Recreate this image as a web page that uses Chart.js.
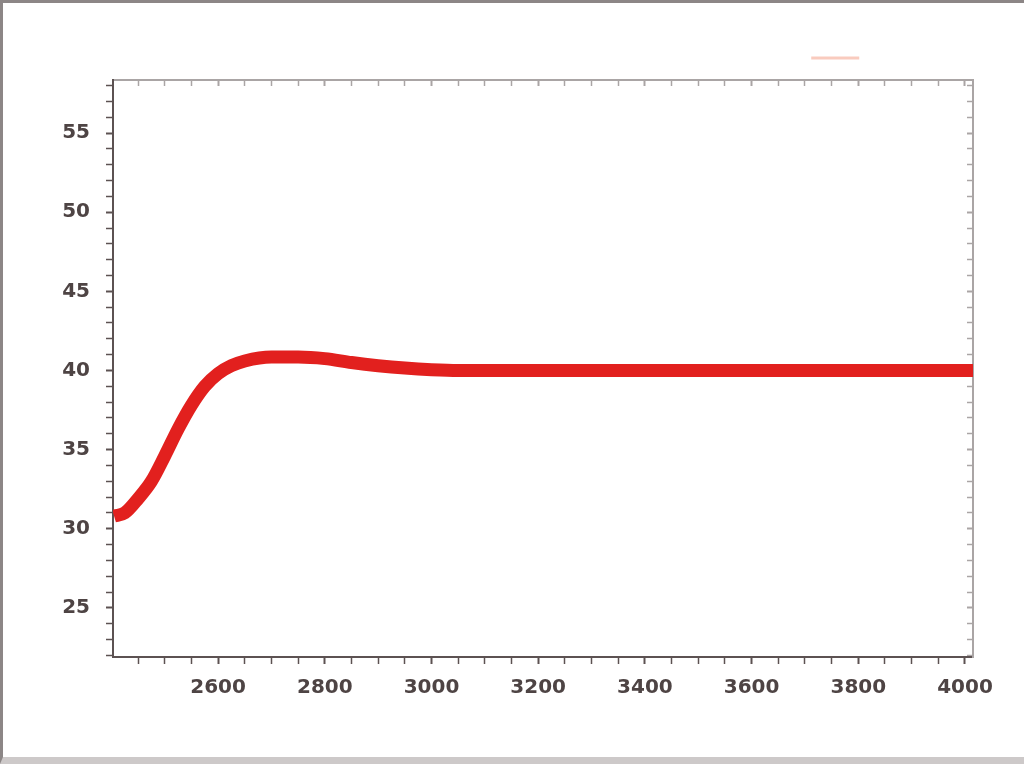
<!DOCTYPE html>
<html>
<head>
<meta charset="utf-8">
<script src="https://cdn.jsdelivr.net/npm/chart.js@4.4.1/dist/chart.umd.min.js"></script>
<style>
  html, body { margin: 0; padding: 0; background: #ffffff; }
  #wrap { position: relative; width: 1024px; height: 764px; }
  #frame {
    position: absolute; left: 0; top: 0; width: 1024px; height: 764px;
    box-sizing: border-box; pointer-events: none;
    border-left: 3px solid #8c8686; border-top: 3px solid #8c8686;
    border-bottom: 7px solid #cdc9c9;
  }
</style>
</head>
<body>
<div id="wrap">
  <canvas id="grafico"></canvas>
  <div id="frame"></div>
</div>
<script>
// valores
var eixoX = [2405, 2425, 2450, 2475, 2500, 2525, 2550, 2575, 2600, 2625, 2650, 2700,
             2750, 2800, 2850, 2900, 2950, 3000, 3050, 3100, 3200, 3400, 3600, 3800, 4015];
var valores = [30.8, 31.0, 31.9, 33.0, 34.6, 36.3, 37.8, 39.0, 39.8, 40.3, 40.6, 40.85,
               40.85, 40.75, 40.5, 40.3, 40.15, 40.05, 40.0, 40.0, 40.0, 40.0, 40.0, 40.0, 40.0];

var ticksX = [2600, 2800, 3000, 3200, 3400, 3600, 3800, 4000];
var ticksY = [25, 30, 35, 40, 45, 50, 55];
var menoresX = 50;   // passo dos ticks menores
var menoresY = 1;

var limitesX = [2403, 4015];
var limitesY = [21.9, 58.35];

var pontos = eixoX.map(function (x, i) { return { x: x, y: valores[i] }; });

function gerarTicks(min, max, passo) {
  var lista = [];
  var v = Math.ceil(min / passo) * passo;
  for (; v <= max; v += passo) lista.push({ value: v });
  return lista;
}

var fonteTicks = { family: 'DejaVu Sans', size: 20, weight: 'bold' };
var corTexto = '#4e4444';

function eixoX_(pos, tamanho, rotulos, cor, tl) {
  return {
    type: 'linear', position: pos, min: limitesX[0], max: limitesX[1],
    afterBuildTicks: function (s) { s.ticks = gerarTicks(limitesX[0], limitesX[1], menoresX); },
    afterFit: function (s) { s.height = tamanho; },
    ticks: {
      display: rotulos, autoSkip: false, maxRotation: 0, padding: 12,
      color: corTexto, font: fonteTicks,
      callback: function (v) { return ticksX.indexOf(v) >= 0 ? String(v) : ''; }
    },
    grid: {
      drawOnChartArea: false, tickLength: tl, tickColor: cor,
      tickWidth: function (c) { return c.tick && ticksX.indexOf(c.tick.value) >= 0 ? 2 : 1.5; }
    },
    border: { color: cor, width: 2 }
  };
}

function eixoY_(pos, tamanho, rotulos, cor, tl) {
  return {
    type: 'linear', position: pos, min: limitesY[0], max: limitesY[1],
    afterBuildTicks: function (s) { s.ticks = gerarTicks(limitesY[0], limitesY[1], menoresY); },
    afterFit: function (s) { s.width = tamanho; },
    ticks: {
      display: rotulos, autoSkip: false, padding: 16,
      color: corTexto, font: fonteTicks,
      callback: function (v) { return ticksY.indexOf(v) >= 0 ? String(v) : ''; }
    },
    grid: {
      drawOnChartArea: false, tickLength: tl, tickColor: cor,
      tickWidth: function (c) { return c.tick && ticksY.indexOf(c.tick.value) >= 0 ? 2 : 1.5; }
    },
    border: { color: cor, width: 2 }
  };
}

var ctx = document.getElementById('grafico').getContext('2d');
var chart = new Chart(ctx, {
  type: 'line',
  data: {
    datasets: [{
      label: 'T',
      data: pontos,
      borderColor: 'rgb(226, 32, 30)',
      backgroundColor: 'rgb(226, 32, 30)',
      borderWidth: 13,
      pointRadius: 0,
      cubicInterpolationMode: 'monotone',
      fill: false
    }]
  },
  options: {
    responsive: true,
    maintainAspectRatio: false,
    devicePixelRatio: 1,
    animation: false,
    layout: { padding: { left: 0, right: 0, top: 42, bottom: 0 } },
    plugins: {
      tooltip: { enabled: false },
      legend: {
        position: 'top', align: 'end',
        labels: {
          boxWidth: 48, boxHeight: 3, padding: 10,
          font: { family: 'DejaVu Sans', size: 12 },
          generateLabels: function () {
            return [{
              text: '                                       ',
              fillStyle: 'rgba(242, 140, 110, 0.45)',
              strokeStyle: 'rgba(242, 140, 110, 0.45)',
              lineWidth: 0, hidden: false, datasetIndex: 0
            }];
          }
        }
      }
    },
    scales: {
      x: eixoX_('bottom', 107, true, '#5c5252', 7),
      x2: eixoX_('top', 6, false, '#aaa5a5', -6),
      y: eixoY_('left', 113, true, '#5c5252', 7),
      y2: eixoY_('right', 51, false, '#aaa5a5', -6)
    }
  }
});
</script>
</body>
</html>
